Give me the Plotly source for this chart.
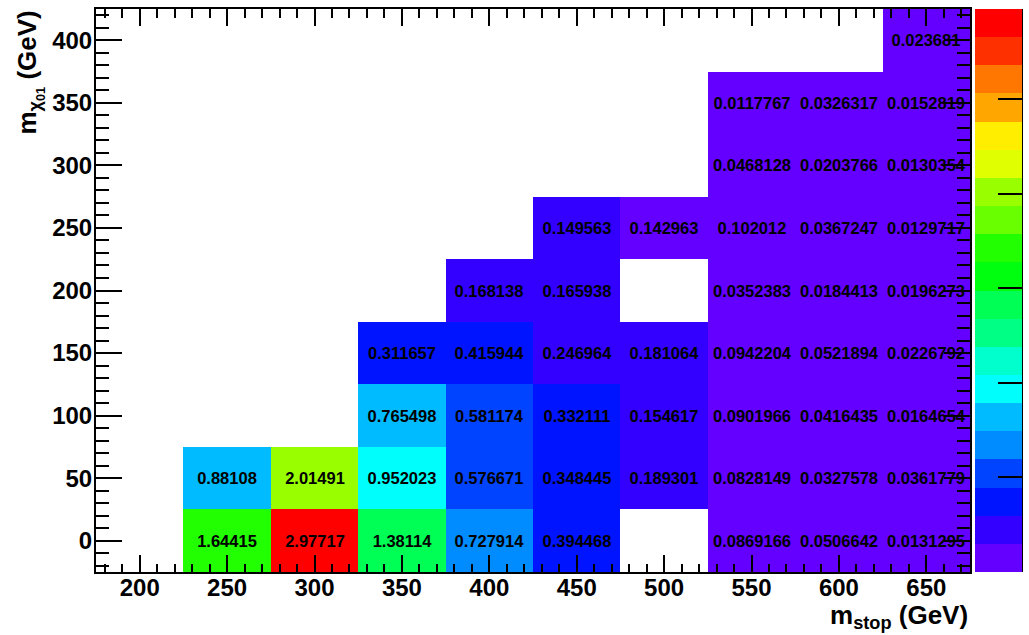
import colorsys
import plotly.graph_objects as go

# Bin centres (GeV)
m_stop = [200, 250, 300, 350, 400, 450, 500, 550, 600, 650]
m_chi01 = [0, 50, 100, 150, 200, 250, 300, 350, 400]

# Cell contents, one list per neutralino-mass row (None = empty bin)
row_0 = [None, 1.64415, 2.97717, 1.38114, 0.727914, 0.394468, None, 0.0869166, 0.0506642, 0.0131295]
row_50 = [None, 0.88108, 2.01491, 0.952023, 0.576671, 0.348445, 0.189301, 0.0828149, 0.0327578, 0.0361779]
row_100 = [None, None, None, 0.765498, 0.581174, 0.332111, 0.154617, 0.0901966, 0.0416435, 0.0164654]
row_150 = [None, None, None, 0.311657, 0.415944, 0.246964, 0.181064, 0.0942204, 0.0521894, 0.0226792]
row_200 = [None, None, None, None, 0.168138, 0.165938, None, 0.0352383, 0.0184413, 0.0196273]
row_250 = [None, None, None, None, None, 0.149563, 0.142963, 0.102012, 0.0367247, 0.0129717]
row_300 = [None, None, None, None, None, None, None, 0.0468128, 0.0203766, 0.0130354]
row_350 = [None, None, None, None, None, None, None, 0.0117767, 0.0326317, 0.0152819]
row_400 = [None, None, None, None, None, None, None, None, None, 0.023681]

z = [row_0, row_50, row_100, row_150, row_200, row_250, row_300, row_350, row_400]
text = [["" if v is None else f"{v:.6g}" for v in row] for row in z]

z_min = 0.0
z_max = 2.97717
n_levels = 20

# Violet -> red spectrum, 20 contour levels sampled from a 50-colour palette
def level_color(j):
    idx = int((j + 0.99) * 50 / n_levels)
    hue = 280.0 - (idx + 1) * 280.0 / 50
    r, g, b = colorsys.hls_to_rgb(hue / 360.0, 0.5, 1.0)
    return f"rgb({round(r * 255)},{round(g * 255)},{round(b * 255)})"

colorscale = []
for j in range(n_levels):
    c = level_color(j)
    colorscale.append([j / n_levels, c])
    colorscale.append([(j + 1) / n_levels, c])

FONT = "Liberation Sans, Arial, Helvetica, sans-serif"

fig = go.Figure(
    go.Heatmap(
        x=m_stop,
        y=m_chi01,
        z=z,
        text=text,
        texttemplate="<b>%{text}</b>",
        textfont=dict(family=FONT, size=16.5, color="black"),
        colorscale=colorscale,
        zmin=z_min,
        zmax=z_max,
        xgap=0,
        ygap=0,
        hoverongaps=False,
        colorbar=dict(
            x=1.0057,
            xanchor="left",
            xpad=0,
            y=0.5,
            yanchor="middle",
            ypad=0,
            len=1.0,
            lenmode="fraction",
            thickness=47,
            thicknessmode="pixels",
            outlinewidth=0,
            tickmode="array",
            tickvals=[0, 0.5, 1.0, 1.5, 2.0, 2.5],
            ticks="inside",
            ticklen=24,
            tickwidth=1.5,
            tickcolor="black",
            showticklabels=False,
        ),
    )
)

axis_common = dict(
    showline=True,
    linecolor="black",
    linewidth=2,
    mirror="allticks",
    ticks="inside",
    tickcolor="black",
    tickwidth=1.5,
    showgrid=False,
    zeroline=False,
    tickfont=dict(family=FONT, size=24, color="black", weight="bold"),
)

fig.update_xaxes(
    range=[175, 675],
    tickmode="array",
    tickvals=[200, 250, 300, 350, 400, 450, 500, 550, 600, 650],
    ticklen=17,
    ticklabelstandoff=-7,
    minor=dict(dtick=10, tick0=0, ticks="inside", ticklen=8.5, tickcolor="black", tickwidth=1.5),
    **axis_common,
)
fig.update_yaxes(
    range=[-25, 425],
    tickmode="array",
    tickvals=[0, 50, 100, 150, 200, 250, 300, 350, 400],
    ticklen=26,
    ticklabelstandoff=-3,
    minor=dict(dtick=10, tick0=0, ticks="inside", ticklen=13, tickcolor="black", tickwidth=1.5),
    **axis_common,
)

# Right-hand axis line of the colour scale
fig.add_shape(
    type="line",
    xref="paper",
    yref="paper",
    x0=(1022 - 96) / 874,
    x1=(1022 - 96) / 874,
    y0=0,
    y1=1,
    line=dict(color="black", width=2),
)

fig.add_annotation(
    text="<b>m<sub>stop</sub> (GeV)</b>",
    xref="paper",
    yref="paper",
    x=1.0,
    y=-0.047,
    xanchor="right",
    yanchor="top",
    showarrow=False,
    font=dict(family=FONT, size=26, color="black"),
)
fig.add_annotation(
    text="<b>m<sub>χ<sub>01</sub></sub> (GeV)</b>",
    xref="paper",
    yref="paper",
    x=-0.076,
    y=1.0,
    xanchor="center",
    yanchor="top",
    textangle=-90,
    showarrow=False,
    font=dict(family=FONT, size=26, color="black"),
)

fig.update_layout(
    width=1029,
    height=635,
    margin=dict(l=96, r=59, t=9, b=63, autoexpand=False),
    paper_bgcolor="white",
    plot_bgcolor="white",
    showlegend=False,
)

fig.write_html("out.html")
